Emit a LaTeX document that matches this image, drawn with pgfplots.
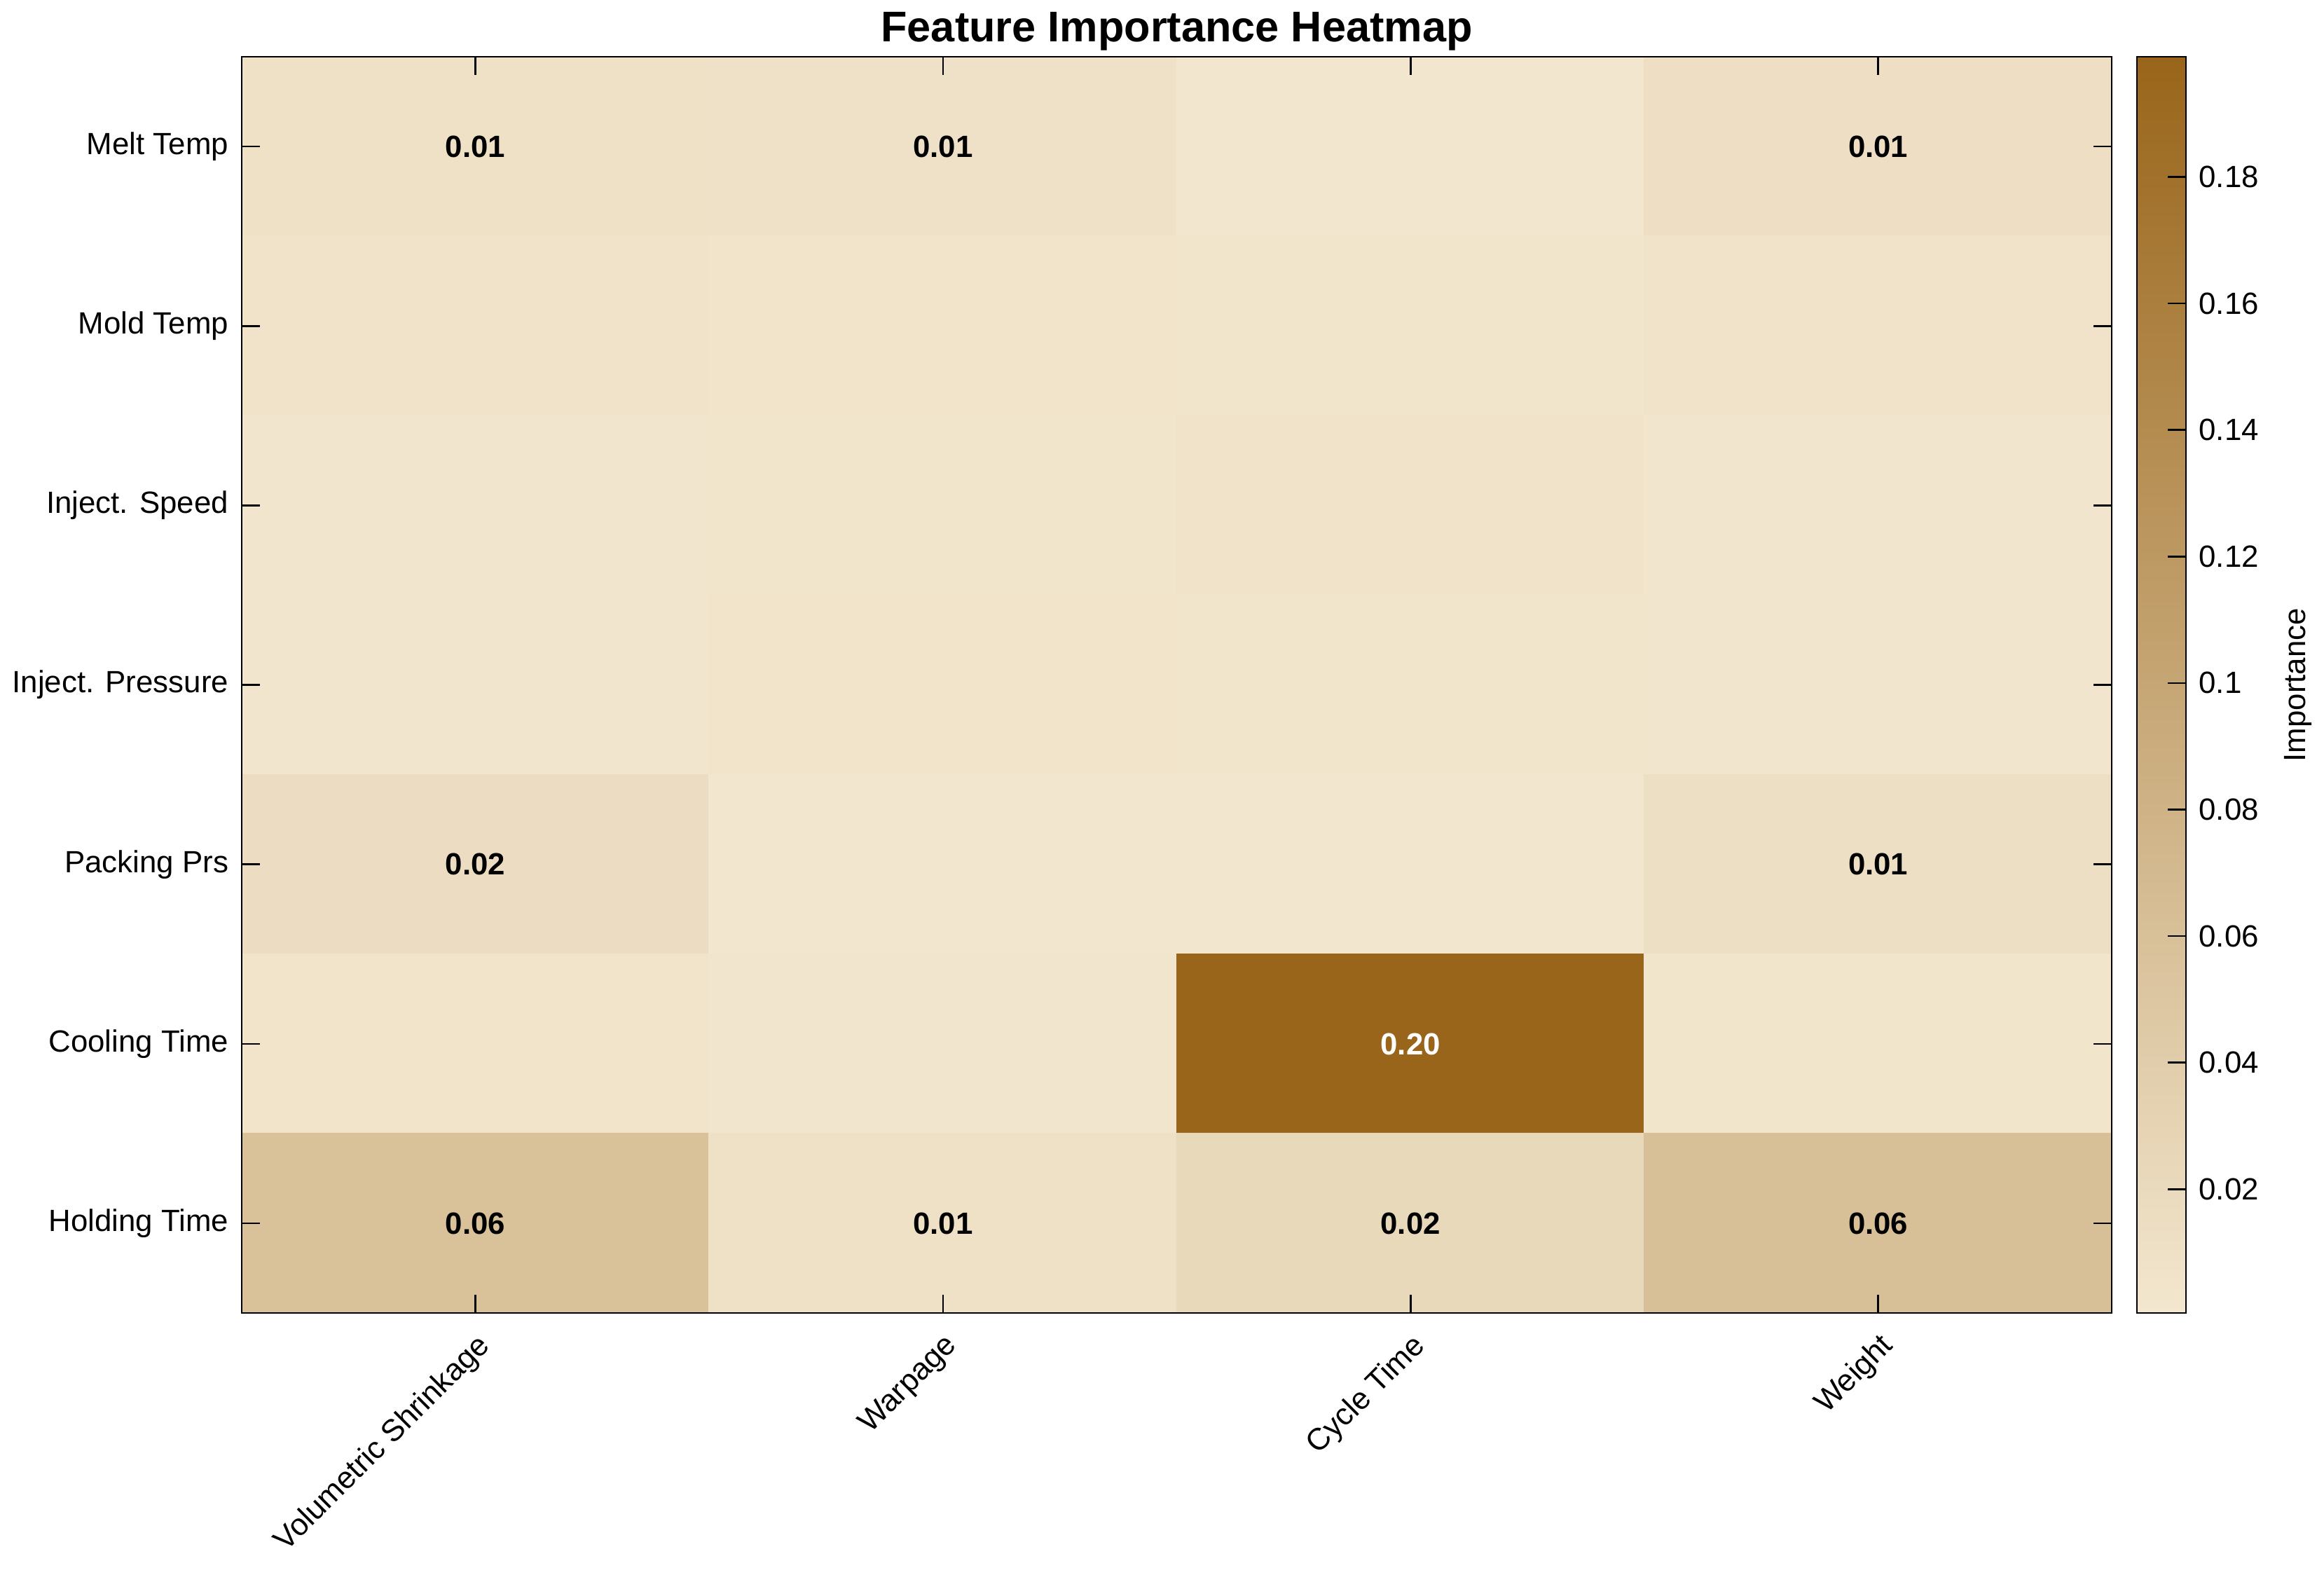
\documentclass[border=0pt]{standalone}
\usepackage{fontspec}
\setmainfont{Liberation Sans}
\usepackage{pgfplots}
\usepackage{pgfplotstable}
\pgfplotsset{compat=1.18}

% feature importance: x = output, y = input feature (row 0 = Melt Temp)
\pgfplotstableread{
x y c
0 0 0.010
1 0 0.009
2 0 0.002
3 0 0.012
0 1 0.006
1 1 0.005
2 1 0.004
3 1 0.006
0 2 0.003
1 2 0.004
2 2 0.007
3 2 0.003
0 3 0.003
1 3 0.005
2 3 0.004
3 3 0.003
0 4 0.015
1 4 0.002
2 4 0.002
3 4 0.013
0 5 0.005
1 5 0.003
2 5 0.199
3 5 0.004
0 6 0.058
1 6 0.010
2 6 0.022
3 6 0.061
}\impdata

\newcommand{\lblfont}{\fontsize{8.3}{10}\selectfont}

\begin{document}
\begin{tikzpicture}
\begin{axis}[
    width=505.6pt, height=339.6pt, scale only axis,
    xmin=-0.5, xmax=3.5, ymin=-0.5, ymax=6.5,
    y dir=reverse,
    axis on top,
    xtick={0,1,2,3},
    xticklabels={Volumetric Shrinkage,Warpage,Cycle Time,Weight},
    ytick={0,1,2,3,4,5,6},
    yticklabels={Melt Temp,Mold Temp,Inject. Speed,Inject. Pressure,Packing Prs,Cooling Time,Holding Time},
    x tick label style={rotate=45, anchor=north east},
    tick label style={font=\lblfont},
    tick align=inside,
    major tick length=5pt,
    major tick style={black, line width=0.5pt},
    title={Feature Importance Heatmap},
    title style={font=\bfseries\fontsize{11.6}{13}\selectfont, yshift=-7.9pt},
    colormap={imp}{rgb255=(243,231,207) rgb255=(153,101,26)},
    point meta min=0.0004, point meta max=0.199,
    colorbar,
    colorbar shift/.style={xshift=6.8pt},
    colorbar style={
        at={(parent axis.north east)}, anchor=north west,
        width=13.2pt,
        ytick={0.02,0.04,0.06,0.08,0.1,0.12,0.14,0.16,0.18},
        yticklabels={0.02,0.04,0.06,0.08,0.1,0.12,0.14,0.16,0.18},
        yticklabel pos=right,
        ytick pos=right,
        tick align=inside,
        major tick length=5pt,
        tick label style={font=\lblfont},
        ylabel={Importance},
        ylabel near ticks,
        ylabel style={font=\lblfont},
    },
]
\addplot[matrix plot*, mesh/cols=4, point meta=explicit]
    table[x=x, y=y, meta=c] {\impdata};

\addplot[draw=none, mark=none, nodes near coords, point meta=explicit symbolic,
    nodes near coords style={anchor=center, font=\bfseries\lblfont, text=black}]
    coordinates {
        (0,0)[0.01] (1,0)[0.01] (3,0)[0.01]
        (0,4)[0.02] (3,4)[0.01]
        (0,6)[0.06] (1,6)[0.01] (2,6)[0.02] (3,6)[0.06]
    };
\addplot[draw=none, mark=none, nodes near coords, point meta=explicit symbolic,
    nodes near coords style={anchor=center, font=\bfseries\lblfont, text=white}]
    coordinates {(2,5)[0.20]};
\end{axis}
\end{tikzpicture}
\end{document}
